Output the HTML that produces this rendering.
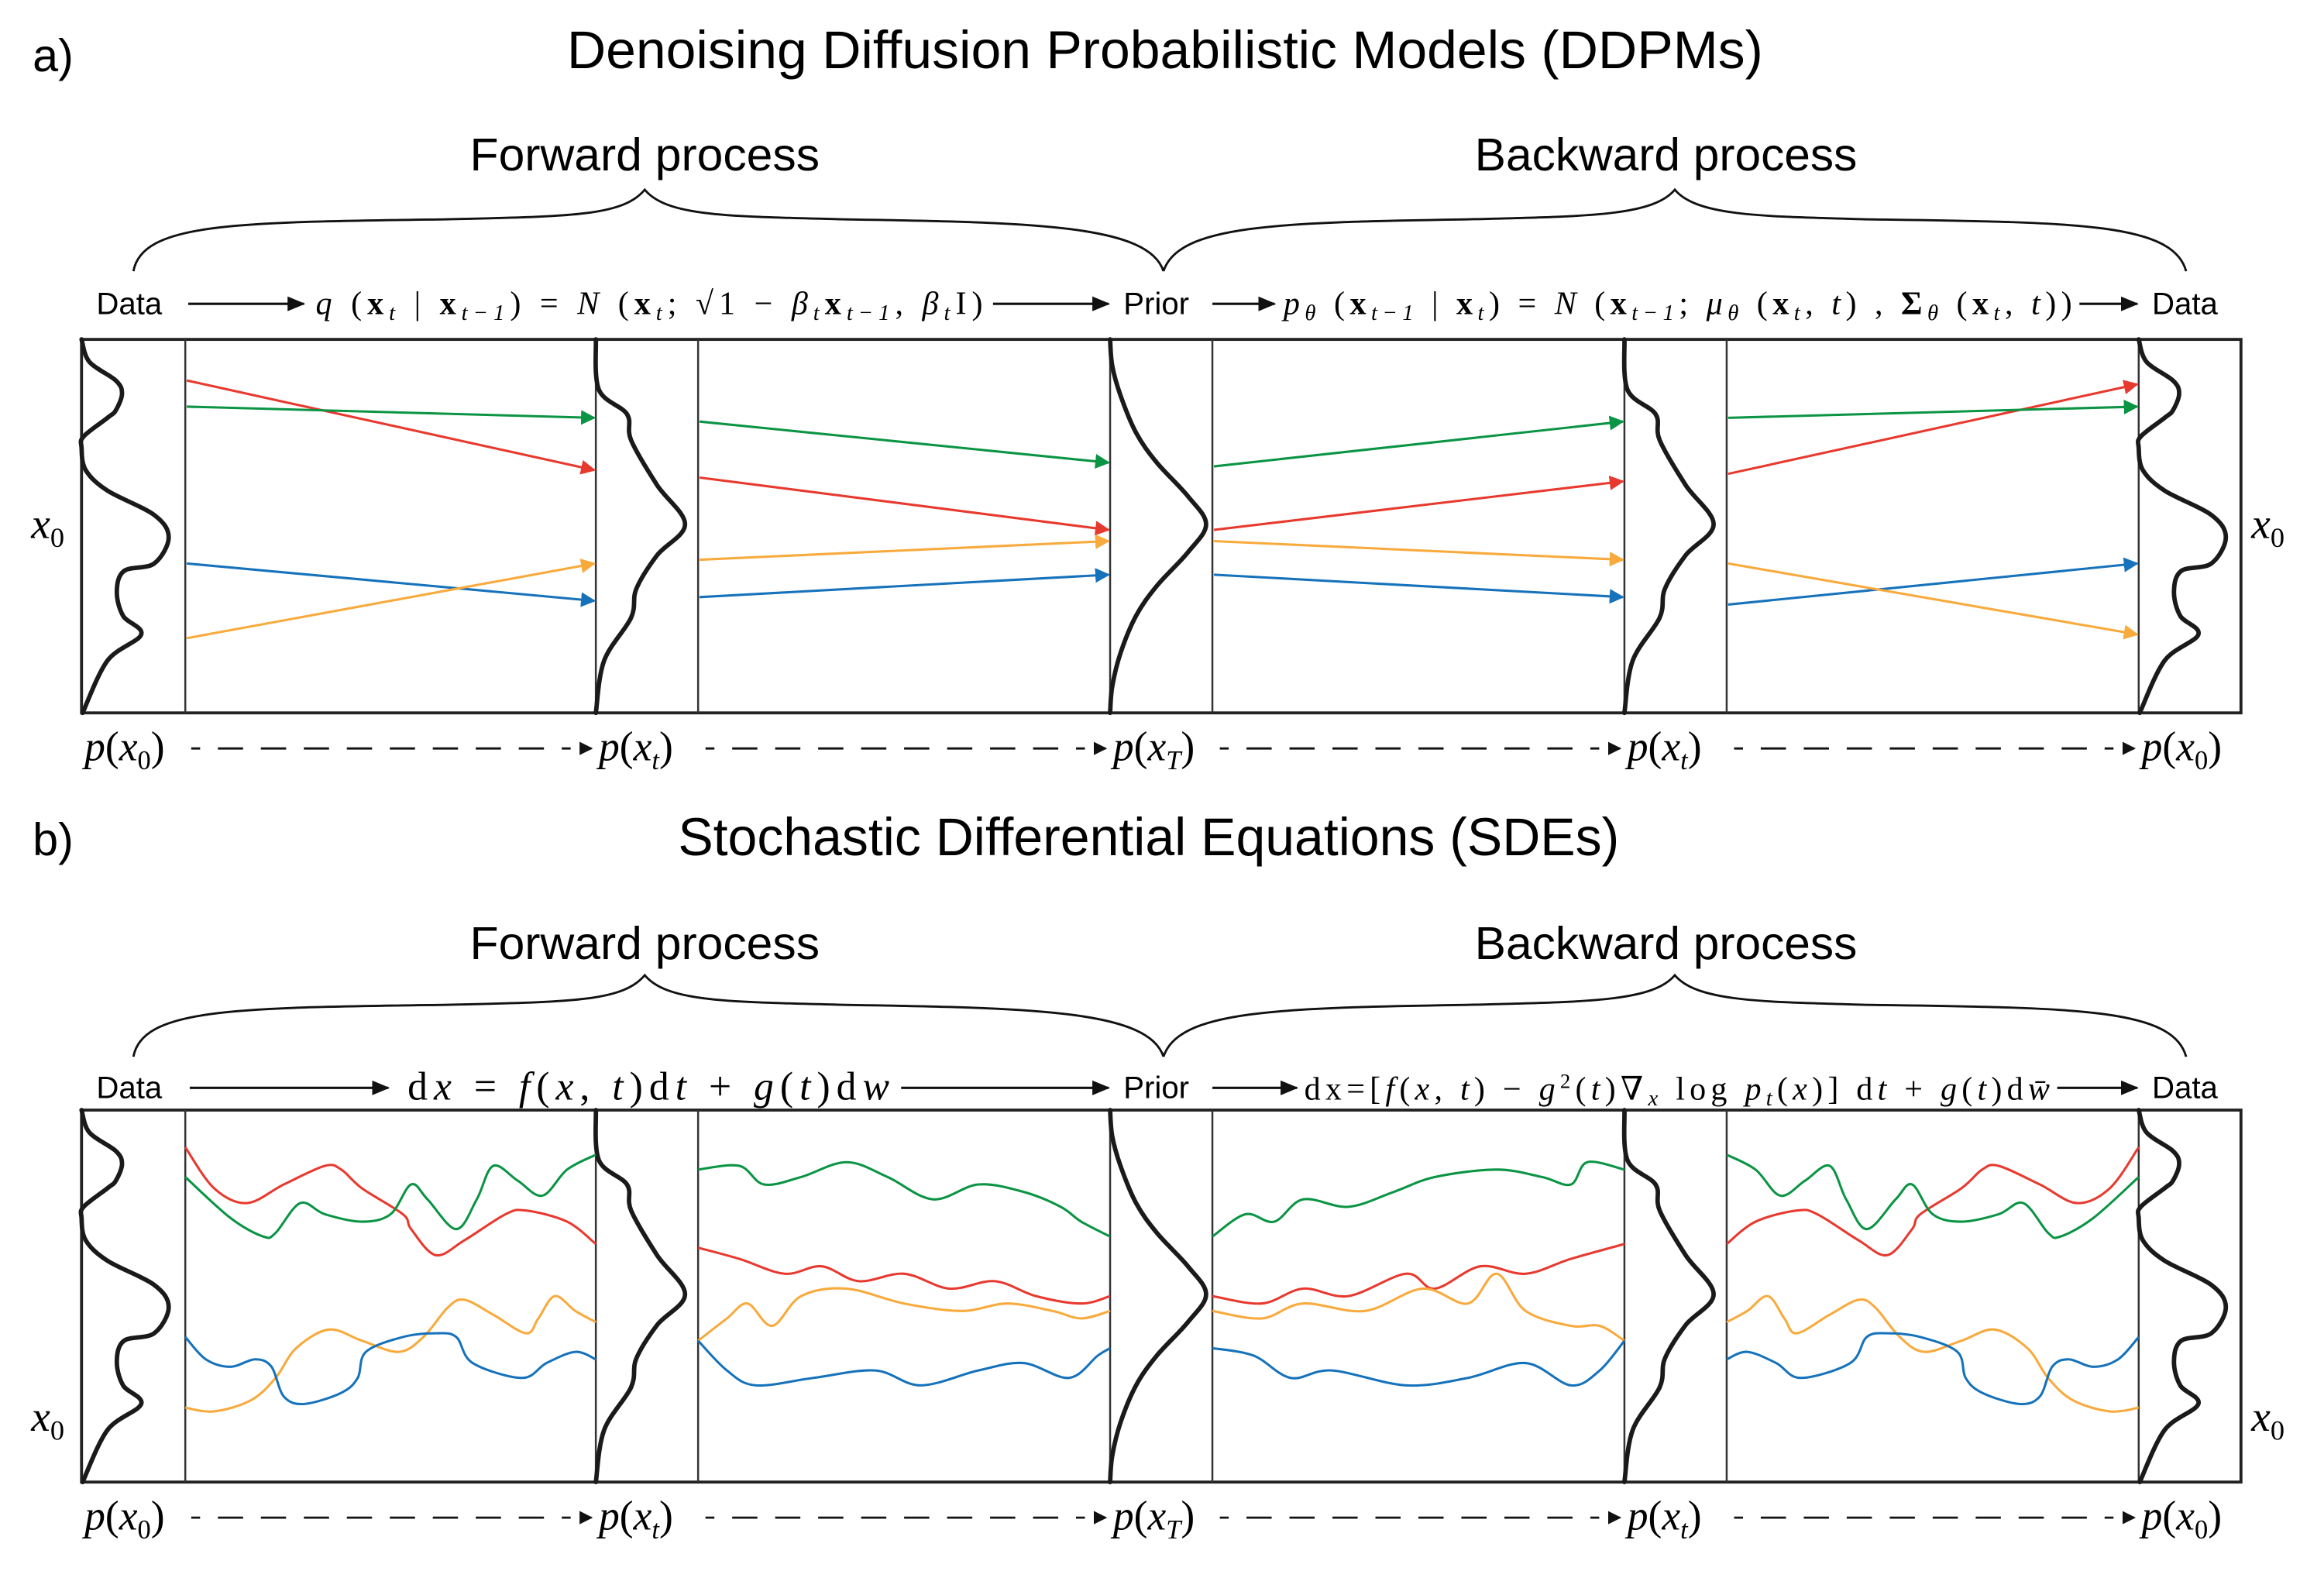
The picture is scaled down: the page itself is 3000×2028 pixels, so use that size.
<!DOCTYPE html>
<html><head><meta charset="utf-8">
<style>
html,body{margin:0;padding:0;background:#fff;}
svg{display:block;}
.sans{font-family:"Liberation Sans","DejaVu Sans",sans-serif;}
.serif{font-family:"Liberation Serif","DejaVu Serif",serif;}
</style></head>
<body>
<svg id="fig" xmlns="http://www.w3.org/2000/svg" width="3000" height="2028" viewBox="0 0 1568 1060">
<defs>
<marker id="ah-red" markerWidth="10" markerHeight="10" refX="9" refY="5" orient="auto" markerUnits="userSpaceOnUse" viewBox="0 0 10 10"><path d="M0,0 L10,5 L0,10 Z" fill="#e8392e"/></marker>
<marker id="ah-green" markerWidth="10" markerHeight="10" refX="9" refY="5" orient="auto" markerUnits="userSpaceOnUse" viewBox="0 0 10 10"><path d="M0,0 L10,5 L0,10 Z" fill="#0a9444"/></marker>
<marker id="ah-blue" markerWidth="10" markerHeight="10" refX="9" refY="5" orient="auto" markerUnits="userSpaceOnUse" viewBox="0 0 10 10"><path d="M0,0 L10,5 L0,10 Z" fill="#1572bb"/></marker>
<marker id="ah-orange" markerWidth="10" markerHeight="10" refX="9" refY="5" orient="auto" markerUnits="userSpaceOnUse" viewBox="0 0 10 10"><path d="M0,0 L10,5 L0,10 Z" fill="#f8aa3c"/></marker>
<marker id="ah-black" markerWidth="12" markerHeight="10" refX="11" refY="5" orient="auto" markerUnits="userSpaceOnUse" viewBox="0 0 12 10"><path d="M0,0 L12,5 L0,10 Z" fill="#111"/></marker>
<marker id="ah-small" markerWidth="9" markerHeight="9" refX="8" refY="4.5" orient="auto" markerUnits="userSpaceOnUse" viewBox="0 0 9 9"><path d="M0,0 L9,4.5 L0,9 Z" fill="#111"/></marker>
</defs>

<text class="sans" x="22" y="48" font-size="31">a)</text>
<text class="sans" x="786" y="46" font-size="36" text-anchor="middle" textLength="807" lengthAdjust="spacingAndGlyphs">Denoising Diffusion Probabilistic Models (DDPMs)</text>
<text class="sans" x="435" y="115" font-size="31" text-anchor="middle" textLength="236" lengthAdjust="spacingAndGlyphs">Forward process</text>
<text class="sans" x="1124" y="115" font-size="31" text-anchor="middle" textLength="258" lengthAdjust="spacingAndGlyphs">Backward process</text>
<path d="M90 183 C96 150,160 150,300 148 C385 146,420 146,435 128 C450 146,490 146,570 148 C700 150,775 152,785 183" fill="none" stroke="#111" stroke-width="1.5"/>
<path d="M785 183 C795 152,860 150,990 148 C1070 146,1115 146,1130 128 C1145 146,1190 146,1260 148 C1400 150,1466 150,1475 183" fill="none" stroke="#111" stroke-width="1.5"/>

<g class="sans" font-size="21">
<text x="65" y="212">Data</text>
<text x="758" y="212">Prior</text>
<text x="1452" y="212">Data</text>
</g>
<line x1="127" y1="205" x2="205" y2="205" stroke="#111" stroke-width="1.6" marker-end="url(#ah-black)"/>
<line x1="670" y1="205" x2="748" y2="205" stroke="#111" stroke-width="1.6" marker-end="url(#ah-black)"/>
<line x1="818" y1="205" x2="860" y2="205" stroke="#111" stroke-width="1.6" marker-end="url(#ah-black)"/>
<line x1="1403" y1="205" x2="1442" y2="205" stroke="#111" stroke-width="1.6" marker-end="url(#ah-black)"/>
<text class="serif" x="213" y="212" font-size="22" textLength="450" lengthAdjust="spacing"><tspan font-style="italic">q</tspan> (<tspan font-weight="bold">x</tspan><tspan font-style="italic" font-size="15" dy="4">t</tspan><tspan dy="-4"> | </tspan><tspan font-weight="bold">x</tspan><tspan font-style="italic" font-size="15" dy="4">t−1</tspan><tspan dy="-4">) = </tspan><tspan font-style="italic">N</tspan> (<tspan font-weight="bold">x</tspan><tspan font-style="italic" font-size="15" dy="4">t</tspan><tspan dy="-4">; √</tspan><tspan>1 − <tspan font-style="italic">β</tspan><tspan font-style="italic" font-size="15" dy="4">t</tspan></tspan><tspan font-weight="bold" dy="-4">x</tspan><tspan font-style="italic" font-size="15" dy="4">t−1</tspan><tspan dy="-4">, </tspan><tspan font-style="italic">β</tspan><tspan font-style="italic" font-size="15" dy="4">t</tspan><tspan dy="-4">I)</tspan></text>
<text class="serif" x="866" y="212" font-size="22" textLength="532" lengthAdjust="spacing"><tspan font-style="italic">p</tspan><tspan font-style="italic" font-size="15" dy="4">θ</tspan><tspan dy="-4"> (</tspan><tspan font-weight="bold">x</tspan><tspan font-style="italic" font-size="15" dy="4">t−1</tspan><tspan dy="-4"> | </tspan><tspan font-weight="bold">x</tspan><tspan font-style="italic" font-size="15" dy="4">t</tspan><tspan dy="-4">) = </tspan><tspan font-style="italic">N</tspan> (<tspan font-weight="bold">x</tspan><tspan font-style="italic" font-size="15" dy="4">t−1</tspan><tspan dy="-4">; </tspan><tspan font-style="italic">μ</tspan><tspan font-style="italic" font-size="15" dy="4">θ</tspan><tspan dy="-4"> (</tspan><tspan font-weight="bold">x</tspan><tspan font-style="italic" font-size="15" dy="4">t</tspan><tspan dy="-4">, </tspan><tspan font-style="italic">t</tspan>) , <tspan font-weight="bold">Σ</tspan><tspan font-style="italic" font-size="15" dy="4">θ</tspan><tspan dy="-4"> (</tspan><tspan font-weight="bold">x</tspan><tspan font-style="italic" font-size="15" dy="4">t</tspan><tspan dy="-4">, </tspan><tspan font-style="italic">t</tspan>))</text>

<text class="sans" x="22" y="577" font-size="31">b)</text>
<text class="sans" x="775" y="577" font-size="36" text-anchor="middle" textLength="635" lengthAdjust="spacingAndGlyphs">Stochastic Differential Equations (SDEs)</text>
<text class="sans" x="435" y="647" font-size="31" text-anchor="middle" textLength="236" lengthAdjust="spacingAndGlyphs">Forward process</text>
<text class="sans" x="1124" y="647" font-size="31" text-anchor="middle" textLength="258" lengthAdjust="spacingAndGlyphs">Backward process</text>
<path d="M90 713 C96 680,160 680,300 678 C385 676,420 676,435 658 C450 676,490 676,570 678 C700 680,775 682,785 713" fill="none" stroke="#111" stroke-width="1.5"/>
<path d="M785 713 C795 682,860 680,990 678 C1070 676,1115 676,1130 658 C1145 676,1190 676,1260 678 C1400 680,1466 680,1475 713" fill="none" stroke="#111" stroke-width="1.5"/>
<g class="sans" font-size="21">
<text x="65" y="741">Data</text>
<text x="758" y="741">Prior</text>
<text x="1452" y="741">Data</text>
</g>
<line x1="128" y1="734" x2="262" y2="734" stroke="#111" stroke-width="1.6" marker-end="url(#ah-black)"/>
<line x1="608" y1="734" x2="748" y2="734" stroke="#111" stroke-width="1.6" marker-end="url(#ah-black)"/>
<line x1="818" y1="734" x2="875" y2="734" stroke="#111" stroke-width="1.6" marker-end="url(#ah-black)"/>
<line x1="1388" y1="734" x2="1442" y2="734" stroke="#111" stroke-width="1.6" marker-end="url(#ah-black)"/>
<text class="serif" x="275" y="742" font-size="27" textLength="325" lengthAdjust="spacing">d<tspan font-style="italic">x</tspan> = <tspan font-style="italic">f</tspan>(<tspan font-style="italic">x</tspan>, <tspan font-style="italic">t</tspan>)d<tspan font-style="italic">t</tspan> + <tspan font-style="italic">g</tspan>(<tspan font-style="italic">t</tspan>)d<tspan font-style="italic">w</tspan></text>
<text class="serif" x="880" y="742" font-size="22" textLength="503" lengthAdjust="spacing">dx=[<tspan font-style="italic">f</tspan>(<tspan font-style="italic">x</tspan>, <tspan font-style="italic">t</tspan>) − <tspan font-style="italic">g</tspan><tspan font-size="14" dy="-8">2</tspan><tspan dy="8">(</tspan><tspan font-style="italic">t</tspan>)∇<tspan font-style="italic" font-size="15" dy="4">x</tspan><tspan dy="-4"> log </tspan><tspan font-style="italic">p</tspan><tspan font-style="italic" font-size="15" dy="4">t</tspan><tspan dy="-4">(</tspan><tspan font-style="italic">x</tspan>)] d<tspan font-style="italic">t</tspan> + <tspan font-style="italic">g</tspan>(<tspan font-style="italic">t</tspan>)d<tspan font-style="italic">w̄</tspan></text>

<g id="layerA"></g>
<g id="layerB"></g>
</svg>

<script>
const ddpmSteps = ['forward-1','forward-2','backward-1','backward-2'];
const ddpmRedStart = [89,63,49,64];   const ddpmRedEnd = [65,49,62,88];
const ddpmGreenStart = [82,78,66,79]; const ddpmGreenEnd = [79,67,78,82];
const ddpmBlueStart = [40,31,37,29];  const ddpmBlueEnd = [30,37,31,40];
const ddpmOrangeStart = [20,41,46,40];const ddpmOrangeEnd = [40,46,41,21];

const sdeRed1 = [[0,90],[7,79],[15,75],[24,80],[34,85],[38,84],[43,79],[53,72],[55,68],[61,61],[68,65],[78,72],[83,73],[93,70],[100,64]];
const sdeGreen1 = [[0,82],[11,71],[19,66],[22,67],[28,75],[34,72],[43,70],[50,72],[55,80],[59,76],[66,68],[71,76],[75,85],[81,81],[87,77],[93,84],[100,88]];
const sdeOrange1 = [[0,20],[7,19],[16,22],[22,28],[27,36],[35,41],[43,38],[52,35],[58,39],[64,47],[68,49],[75,45],[83,40],[86,44],[90,50],[95,46],[100,43]];
const sdeBlue1 = [[0,39],[5,33],[11,31],[17,33],[21,31],[24,23],[29,21],[38,24],[42,28],[44,35],[53,39],[61,40],[66,39],[70,32],[82,28],[88,32],[95,35],[100,33]];

const sdeGreen2 = [[0,84],[10,85],[16,80],[25,82],[36,86],[46,82],[57,76],[68,80],[79,78],[88,74],[93,70],[100,66]];
const sdeRed2 = [[0,63],[10,60],[21,56],[30,58],[39,54],[50,56],[61,52],[72,54],[82,50],[93,48],[100,50]];
const sdeOrange2 = [[0,38],[7,44],[12,48],[18,42],[25,50],[36,52],[50,48],[64,46],[75,48],[86,46],[93,44],[100,46]];
const sdeBlue2 = [[0,38],[7,30],[14,26],[28,28],[43,30],[54,26],[68,30],[79,32],[90,28],[97,34],[100,36]];

const sdeGreen3 = [[0,66],[8,72],[15,70],[22,76],[33,74],[44,78],[54,82],[69,84],[80,82],[87,80],[91,86],[100,84]];
const sdeRed3 = [[0,50],[12,48],[22,52],[33,50],[47,56],[54,52],[65,58],[76,56],[87,60],[100,64]];
const sdeOrange3 = [[0,46],[12,44],[22,48],[37,46],[51,52],[62,48],[69,56],[76,46],[87,42],[94,42],[100,38]];
const sdeBlue3 = [[0,36],[10,34],[19,28],[29,30],[47,26],[62,28],[76,32],[87,26],[94,30],[100,38]];

const sdeRed4 = [[0,64],[7,70],[17,73],[22,72],[32,65],[39,61],[45,68],[47,72],[57,79],[62,84],[66,85],[76,80],[85,75],[93,79],[100,90]];
const sdeGreen4 = [[0,88],[7,84],[13,77],[19,81],[25,85],[29,76],[34,68],[41,76],[45,80],[50,72],[57,70],[66,72],[72,75],[78,67],[81,66],[89,71],[100,82]];
const sdeOrange4 = [[0,43],[5,46],[10,50],[14,44],[17,40],[25,45],[32,49],[36,47],[42,39],[48,35],[57,38],[65,41],[73,36],[78,28],[84,22],[93,19],[100,20]];
const sdeBlue4 = [[0,33],[5,35],[12,32],[18,28],[30,32],[34,39],[39,40],[47,39],[56,35],[58,28],[62,24],[71,21],[76,23],[79,31],[83,33],[89,31],[95,33],[100,39]];

const densityData = [[0,0],[0.075,0.06],[0.33,0.11],[0.39,0.145],[0.33,0.19],[0.25,0.21],[0.02,0.26],[0,0.29],[0.04,0.35],[0.25,0.405],[0.7,0.47],[0.84,0.53],[0.7,0.6],[0.41,0.62],[0.34,0.675],[0.4,0.74],[0.575,0.79],[0.25,0.86],[0.01,1]];
const densityXt = [[0,0],[0.03,0.135],[0.3,0.2],[0.34,0.27],[0.59,0.39],[0.86,0.495],[0.59,0.578],[0.39,0.668],[0.34,0.745],[0.08,0.86],[0,1]];
const densityPrior = [[0,0],[0.02,0.07],[0.1,0.15],[0.25,0.25],[0.45,0.33],[0.75,0.42],[0.925,0.495],[0.75,0.57],[0.45,0.66],[0.25,0.74],[0.1,0.84],[0.02,0.93],[0,1]];

const colors = {red:'#e8392e', green:'#0a9444', blue:'#1572bb', orange:'#f8aa3c'};
const NS = 'http://www.w3.org/2000/svg';
const colLeft = [55,402,749,1096,1443];
const colW = 70;
const segX0 = [125,471,818,1165];
const segX1 = [402,749,1096,1443];

function mk(tag, attrs, parent){ const e=document.createElementNS(NS,tag); for(const k in attrs) e.setAttribute(k,attrs[k]); parent.appendChild(e); return e; }
function smooth(pts){
  let d='M'+pts[0][0].toFixed(2)+','+pts[0][1].toFixed(2);
  for(let i=0;i<pts.length-1;i++){
    const p0=pts[Math.max(0,i-1)], p1=pts[i], p2=pts[i+1], p3=pts[Math.min(pts.length-1,i+2)];
    const c1=[p1[0]+(p2[0]-p0[0])/6, p1[1]+(p2[1]-p0[1])/6];
    const c2=[p2[0]-(p3[0]-p1[0])/6, p2[1]-(p3[1]-p1[1])/6];
    d+=' C'+c1.map(v=>v.toFixed(2)).join(',')+' '+c2.map(v=>v.toFixed(2)).join(',')+' '+p2[0].toFixed(2)+','+p2[1].toFixed(2);
  }
  return d;
}

function drawPanel(layer, top, bottom, yScale, prefix){
  const frame = mk('rect',{x:55,y:top,width:1457,height:bottom-top,fill:'none',stroke:'#222','stroke-width':2},layer);
  
  
  [125,402,471,749,818,1096,1165,1443].forEach((x,i)=>{
    const l = mk('line',{x1:x,y1:top,x2:x,y2:bottom,stroke:'#333','stroke-width':1.3},layer);
    
    
  });
  const shapes=[densityData,densityXt,densityPrior,densityXt,densityData];
  const names=['density-p-x0','density-p-xt','density-p-xT','density-p-xt-reverse','density-p-x0-reverse'];
  shapes.forEach((s,i)=>{
    const pts=s.map(p=>[colLeft[i]+p[0]*colW, top+p[1]*(bottom-top)]);
    const p = mk('path',{d:smooth(pts),fill:'none',stroke:'#1a1a1a','stroke-width':3,'stroke-linecap':'round'},layer);
    
    
  });
  const labY = yScale(prefix==='ddpm'?50:17)+8;
  const xl = mk('text',{x:21,y:labY,'font-size':29,'font-style':'italic',class:'serif'},layer);
  xl.innerHTML='x<tspan font-size="19" font-style="normal" dy="6">0</tspan>';
  
  
  const xr = mk('text',{x:1519,y:labY,'font-size':29,'font-style':'italic',class:'serif'},layer);
  xr.innerHTML='x<tspan font-size="19" font-style="normal" dy="6">0</tspan>';
  
  
  const labs=[['x','0'],['x','t'],['x','T'],['x','t'],['x','0']];
  const lx=[57,404,751,1098,1445];
  const ly=bottom+32;
  labs.forEach((l,i)=>{
    const t = mk('text',{x:lx[i],y:ly,'font-size':28,class:'serif'},layer);
    t.innerHTML='<tspan font-style="italic">p</tspan>(<tspan font-style="italic">x</tspan><tspan font-size="18" font-style="'+(l[1]==='0'?'normal':'italic')+'" dy="6">'+l[1]+'</tspan><tspan dy="-6">)</tspan>';
    
    
    if(i<4){
      const a = mk('line',{x1:lx[i]+72,y1:ly-8,x2:lx[i+1]-5,y2:ly-8,stroke:'#111','stroke-width':1.5,'stroke-dasharray':'6 12 17 12 17 12 17 12 17 12 17 12 17 12 17 12 17 12','marker-end':'url(#ah-small)'},layer);
      
      
    }
  });
}

const yA = v => 481 - v*2.52;
const layerA=document.getElementById('layerA');
drawPanel(layerA,229,481,yA,'ddpm');
const arrowSets=[['red',ddpmRedStart,ddpmRedEnd],['green',ddpmGreenStart,ddpmGreenEnd],['blue',ddpmBlueStart,ddpmBlueEnd],['orange',ddpmOrangeStart,ddpmOrangeEnd]];
ddpmSteps.forEach((step,i)=>{
  arrowSets.forEach(([c,s,e])=>{
    const l = mk('line',{x1:segX0[i]+1,y1:yA(s[i]),x2:segX1[i]-1,y2:yA(e[i]),stroke:colors[c],'stroke-width':1.6,'marker-end':'url(#ah-'+c+')'},layerA);
    
    
  });
});

const yB = v => 1000 - v*2.51;
const layerB=document.getElementById('layerB');
drawPanel(layerB,749,1000,yB,'sde');
const sdeSeries=[
  [['red',sdeRed1],['green',sdeGreen1],['orange',sdeOrange1],['blue',sdeBlue1]],
  [['red',sdeRed2],['green',sdeGreen2],['orange',sdeOrange2],['blue',sdeBlue2]],
  [['red',sdeRed3],['green',sdeGreen3],['orange',sdeOrange3],['blue',sdeBlue3]],
  [['red',sdeRed4],['green',sdeGreen4],['orange',sdeOrange4],['blue',sdeBlue4]]
];
sdeSeries.forEach((seg,i)=>{
  const w=segX1[i]-segX0[i];
  seg.forEach(([c,data])=>{
    const pts=data.map(p=>[segX0[i]+p[0]/100*w, yB(p[1])]);
    const path = mk('path',{d:smooth(pts),fill:'none',stroke:colors[c],'stroke-width':1.6},layerB);
    
    
  });
});
</script>
</body></html>
